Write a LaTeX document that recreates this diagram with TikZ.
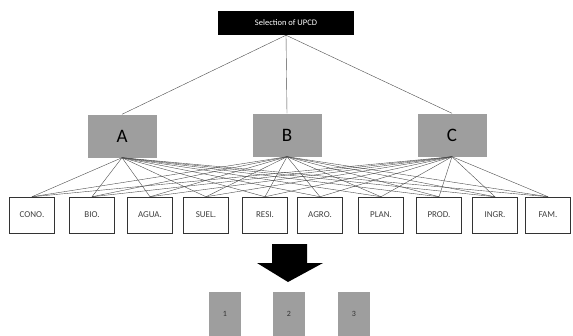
\documentclass[tikz,border=0pt]{standalone}
\usepackage{fontspec}
\setmainfont{Carlito}
\begin{document}
\begin{tikzpicture}[x=1pt, y=-1pt, every node/.style={align=center, inner sep=0pt},
  critbox/.style={draw=black!80, line width=0.5pt, fill=white, minimum width=45pt, minimum height=36pt, font=\fontsize{9}{10}\selectfont, text=black!75},
  groupbox/.style={fill=black!38, minimum width=69pt, minimum height=43pt, font=\fontsize{19}{20}\selectfont},
  altbox/.style={fill=black!38, minimum width=32pt, minimum height=44pt, font=\fontsize{8}{9}\selectfont, text=black!80},
  link/.style={draw=black!70, line width=0.4pt}]
\useasboundingbox (0,0) rectangle (573,335);
\node[fill=black, text=white, minimum width=136pt, minimum height=24pt, font=\fontsize{8.5}{9}\selectfont] (goal) at (286,23) {Selection of UPCD};

\node[groupbox] (A) at (122,136) {A};
\node[groupbox] (B) at (287,135) {B};
\node[groupbox] (C) at (452,135) {C};
\draw[link] (goal.south) -- (A.north);
\draw[link] (goal.south) -- (B.north);
\draw[link] (goal.south) -- (C.north);

\foreach \x/\n/\t in {32/c1/CONO., 92/c2/BIO., 150/c3/AGUA., 206/c4/SUEL., 265/c5/RESI.,
                      320/c6/AGRO., 381/c7/PLAN., 439/c8/PROD., 495/c9/INGR., 548/c10/FAM.}
  \node[critbox] (\n) at (\x,215) {\t};
\foreach \g in {A,B,C}
  \foreach \n in {c1,c2,c3,c4,c5,c6,c7,c8,c9,c10}
    \draw[link] (\g.south) -- (\n.north);

% arrow down to alternatives
\fill[black] (272,244) -- (307,244) -- (307,263) -- (323,263) -- (288,282)
  -- (257,263) -- (272,263) -- cycle;

\node[altbox] (alt1) at (225,314) {1};
\node[altbox] (alt2) at (289,314) {2};
\node[altbox] (alt3) at (354,314) {3};
\end{tikzpicture}
\end{document}
